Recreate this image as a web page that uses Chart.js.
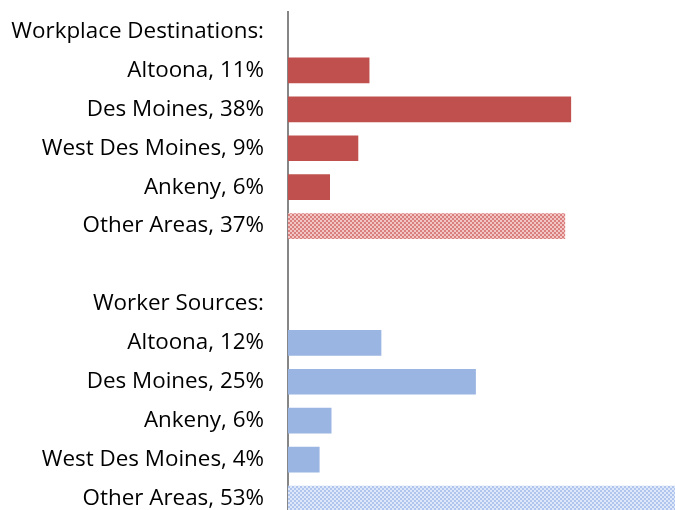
<!DOCTYPE html>
<html>
<head>
<meta charset="utf-8">
<script src="https://cdn.jsdelivr.net/npm/chart.js@4"></script>
<style>
  html, body { margin: 0; padding: 0; background: #fff; overflow: hidden; }
  canvas { display: block; }
</style>
</head>
<body>
<canvas id="barChart" width="675" height="518"></canvas>
<script>
var categories = [
  "Workplace Destinations:",
  "Altoona, 11%",
  "Des Moines, 38%",
  "West Des Moines, 9%",
  "Ankeny, 6%",
  "Other Areas, 37%",
  "",
  "Worker Sources:",
  "Altoona, 12%",
  "Des Moines, 25%",
  "Ankeny, 6%",
  "West Des Moines, 4%",
  "Other Areas, 53%",
];
var destinations = [null, 10.9, 38.0, 9.4, 5.6, 37.2, null, null, null, null, null, null, null];
var sources = [null, null, null, null, null, null, null, null, 12.5, 25.2, 5.8, 4.2, 53];

// 2px checker used for the "Other Areas" bars
function checker(a, b) {
  var c = document.createElement("canvas");
  c.width = 4;
  c.height = 4;
  var g = c.getContext("2d");
  g.fillStyle = a;
  g.fillRect(0, 0, 4, 4);
  g.fillStyle = b;
  g.fillRect(0, 0, 2, 2);
  g.fillRect(2, 2, 2, 2);
  return g.createPattern(c, "repeat");
}

var red = "#C0504D";
var blue = "#9AB5E2";
var redHatch = checker("#D9807E", "#F2C6C5");
var blueHatch = checker("#B0C6EE", "#DFE8F9");

function colorsFor(solid, hatch) {
  return categories.map(function (c) {
    return c.indexOf("Other Areas") === 0 ? hatch : solid;
  });
}

// size the label font so the longest label spans like the original
var fontFamily = "'Open Sans'";
var mctx = document.createElement("canvas").getContext("2d");
mctx.font = "20px " + fontFamily;
var fontSize = Math.round(20 * 253 / mctx.measureText(categories[0]).width * 10) / 10;

var ctx = document.getElementById("barChart").getContext("2d");
var myChart = new Chart(ctx, {
  type: "bar",
  data: {
    labels: categories,
    datasets: [
      {
        label: "Workplace Destinations",
        data: destinations,
        backgroundColor: colorsFor(red, redHatch),
        barThickness: 25,
        grouped: false,
      },
      {
        label: "Worker Sources",
        data: sources,
        backgroundColor: colorsFor(blue, blueHatch),
        barThickness: 25,
        grouped: false,
      },
    ],
  },
  options: {
    indexAxis: "y",
    responsive: false,
    animation: false,
    layout: { padding: { top: 12, right: 0, bottom: 0, left: 0 } },
    plugins: {
      legend: { display: false },
      tooltip: { enabled: false },
    },
    scales: {
      x: {
        display: false,
        min: 0,
        max: 52,
      },
      y: {
        grid: { display: false, drawTicks: false },
        border: { display: true, color: "#868686", width: 2 },
        ticks: {
          color: "#000",
          padding: 24,
          font: { family: fontFamily, size: fontSize },
        },
        afterFit: function (scale) {
          scale.width = 288;
          scale.paddingTop = 0;
          scale.paddingBottom = 0;
        },
      },
    },
  },
});
</script>
</body>
</html>
